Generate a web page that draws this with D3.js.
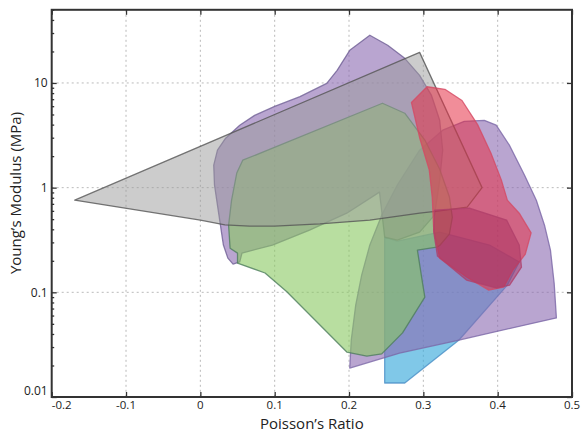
<!DOCTYPE html>
<html>
<head>
<meta charset="utf-8">
<script src="https://cdn.jsdelivr.net/npm/d3@7"></script>
<style>
  html, body { margin: 0; padding: 0; background: #fff; }
  svg { display: block; }
  text { font-family: "Open Sans", "Noto Sans", sans-serif; fill: #222; }
</style>
</head>
<body>
<svg id="chart" width="581" height="431"></svg>
<script>
// ---- Data (Poisson's ratio, Young's modulus in MPa) ----
const xTicks = [-0.2, -0.1, 0, 0.1, 0.2, 0.3, 0.4, 0.5];
const xTickLabels = ["-0.2", "-0.1", "0", "0.1", "0.2", "0.3", "0.4", "0.5"];
const yTicks = [0.01, 0.1, 1, 10];
const yTickLabels = ["0.01", "0.1", "1", "10"];

const cyanRegion = [
  [0.248, 0.0136], [0.275, 0.0136], [0.348, 0.035], [0.413, 0.117], [0.429, 0.195],
  [0.389, 0.283], [0.322, 0.376], [0.265, 0.308], [0.248, 0.337]
];
const purpleRightRegion = [
  [0.201, 0.0189], [0.203, 0.035], [0.209, 0.0755], [0.217, 0.146], [0.228, 0.283],
  [0.244, 0.546], [0.265, 1.06], [0.295, 2.28], [0.326, 3.54], [0.355, 4.3],
  [0.382, 4.4], [0.398, 3.95], [0.416, 2.53], [0.436, 1.32], [0.452, 0.759],
  [0.463, 0.438], [0.471, 0.253], [0.476, 0.122], [0.479, 0.057], [0.348, 0.035],
  [0.268, 0.0263]
];
const purpleLeftRegion = [
  [0.044, 0.186], [0.037, 0.212], [0.031, 0.283], [0.027, 0.438], [0.023, 0.68],
  [0.019, 1.06], [0.018, 1.64], [0.023, 2.28], [0.034, 2.97], [0.053, 3.95],
  [0.073, 4.9], [0.100, 5.97], [0.134, 7.4], [0.170, 9.9], [0.184, 13.2],
  [0.201, 20.5], [0.228, 28.6], [0.252, 22.9], [0.275, 17.2], [0.295, 11.8],
  [0.311, 7.6], [0.322, 4.4], [0.326, 2.28], [0.322, 1.18], [0.315, 0.546],
  [0.295, 0.376], [0.265, 0.315], [0.248, 0.337], [0.241, 0.906], [0.197, 0.57],
  [0.147, 0.393], [0.097, 0.283], [0.056, 0.237], [0.053, 0.195]
];
const greenRegion = [
  [0.050, 0.19], [0.087, 0.153], [0.116, 0.102], [0.197, 0.0269], [0.224, 0.0246],
  [0.244, 0.0258], [0.272, 0.041], [0.302, 0.090], [0.299, 0.122], [0.292, 0.253],
  [0.318, 0.27], [0.322, 0.28], [0.335, 0.36], [0.339, 0.52], [0.335, 0.82],
  [0.322, 1.5], [0.302, 2.85], [0.275, 5.14], [0.245, 6.4], [0.084, 2.18],
  [0.057, 1.83], [0.049, 1.38], [0.042, 0.759], [0.038, 0.438], [0.040, 0.264],
  [0.050, 0.237]
];
const grayRegion = [
  [-0.169, 0.759], [0.295, 19.6], [0.379, 1.0], [0.359, 0.65], [0.322, 0.60],
  [0.295, 0.57], [0.228, 0.49], [0.161, 0.45], [0.100, 0.429], [0.066, 0.429],
  [0.033, 0.44], [0.0, 0.49]
];
const redOuterRegion = [
  [0.284, 6.5], [0.305, 9.2], [0.329, 8.7], [0.352, 6.8], [0.373, 4.0],
  [0.391, 2.13], [0.405, 1.18], [0.413, 0.759], [0.429, 0.57], [0.445, 0.37],
  [0.437, 0.23], [0.421, 0.165], [0.408, 0.112], [0.388, 0.105], [0.358, 0.14],
  [0.322, 0.212], [0.314, 0.393], [0.312, 0.80], [0.308, 1.47], [0.295, 3.0]
];
const redInnerRegion = [
  [0.315, 0.61], [0.362, 0.637], [0.412, 0.49], [0.429, 0.283], [0.432, 0.174],
  [0.416, 0.117], [0.398, 0.110], [0.358, 0.131], [0.319, 0.222], [0.314, 0.376]
];

const regions = [
  { name: "cyan", data: cyanRegion, fill: "#3caadc", opacity: 0.65, stroke: "#4a8fc6" },
  { name: "purpleRight", data: purpleRightRegion, fill: "#8a69b1", opacity: 0.6, stroke: "#7b66a6" },
  { name: "purpleLeft", data: purpleLeftRegion, fill: "#8a69b1", opacity: 0.6, stroke: "#6f5f95" },
  { name: "green", data: greenRegion, fill: "#89c861", opacity: 0.6, stroke: "#4d7d5c" },
  { name: "gray", data: grayRegion, fill: "#999999", opacity: 0.5, stroke: "#555555" },
  { name: "redOuter", data: redOuterRegion, fill: "#e62f45", opacity: 0.55, stroke: "#d44a64" },
  { name: "redInner", data: redInnerRegion, fill: "#a52a5a", opacity: 0.45, stroke: "#b0406a" }
];

(function draw() {
  const svg = d3.select("#chart");
  const pL = 51.7, pR = 572, pT = 9.8, pB = 397;

  const x = d3.scaleLinear().domain([-0.2, 0.5]).range([pL, pR]);
  const y = d3.scaleLog().domain([0.01, 50]).range([pB, pT]);

  svg.append("defs").append("clipPath").attr("id", "plotClip")
    .append("rect").attr("x", pL).attr("y", pT)
    .attr("width", pR - pL).attr("height", pB - pT);

  // grid
  const grid = svg.append("g");
  grid.selectAll("line.vx").data(xTicks.slice(1, -1)).join("line")
    .attr("x1", d => x(d)).attr("x2", d => x(d))
    .attr("y1", pT).attr("y2", pB)
    .attr("stroke", "#a8a8a8").attr("stroke-width", 0.8).attr("stroke-dasharray", "2,3");
  grid.selectAll("line.hy").data(yTicks.slice(1)).join("line")
    .attr("y1", d => y(d)).attr("y2", d => y(d))
    .attr("x1", pL).attr("x2", pR)
    .attr("stroke", "#a8a8a8").attr("stroke-width", 0.8).attr("stroke-dasharray", "2,3");

  // regions
  const line = d3.line().x(d => x(d[0])).y(d => y(d[1])).curve(d3.curveLinearClosed);
  const plot = svg.append("g").attr("clip-path", "url(#plotClip)");
  plot.selectAll("path.region").data(regions).join("path")
    .attr("class", "region")
    .attr("d", d => line(d.data))
    .attr("fill", d => d.fill)
    .attr("fill-opacity", d => d.opacity)
    .attr("stroke", d => d.stroke)
    .attr("stroke-opacity", 0.8)
    .attr("stroke-width", 1.3)
    .attr("stroke-linejoin", "round");

  // axes (ticks drawn inward)
  const axisColor = "#333";
  const minorY = [];
  [0.01, 0.1, 1, 10].forEach(dec => { for (let k = 2; k <= 9; k++) { const v = dec * k; if (v <= 50) minorY.push(v); } });

  function styleAxis(g) {
    g.select(".domain").remove();
    g.selectAll(".tick line").attr("stroke", axisColor).attr("stroke-width", 1.3);
  }
  svg.append("g").attr("transform", `translate(0,${pB})`)
    .call(d3.axisBottom(x).tickValues(xTicks).tickSize(-5).tickFormat("")).call(styleAxis);
  svg.append("g").attr("transform", `translate(0,${pT})`)
    .call(d3.axisTop(x).tickValues(xTicks).tickSize(-5).tickFormat("")).call(styleAxis);
  svg.append("g").attr("transform", `translate(${pL},0)`)
    .call(d3.axisLeft(y).tickValues(yTicks).tickSize(-5).tickFormat("")).call(styleAxis);
  svg.append("g").attr("transform", `translate(${pL},0)`)
    .call(d3.axisLeft(y).tickValues(minorY).tickSize(-2.5).tickFormat("")).call(styleAxis);
  svg.append("g").attr("transform", `translate(${pR},0)`)
    .call(d3.axisRight(y).tickValues(yTicks).tickSize(-5).tickFormat("")).call(styleAxis);

  // frame
  svg.append("rect").attr("x", pL).attr("y", pT)
    .attr("width", pR - pL).attr("height", pB - pT)
    .attr("fill", "none").attr("stroke", axisColor).attr("stroke-width", 2);

  // tick labels
  svg.append("g").selectAll("text").data(xTicks).join("text")
    .attr("x", (d, i) => i === 0 ? x(d) + 10 : x(d))
    .attr("y", 408.5)
    .attr("text-anchor", "middle")
    .attr("font-size", 11.5)
    .text((d, i) => xTickLabels[i]);
  svg.append("g").selectAll("text").data(yTicks).join("text")
    .attr("x", pL - 4)
    .attr("y", d => d === 0.01 ? y(d) - 6 : y(d))
    .attr("dy", "0.35em")
    .attr("text-anchor", "end")
    .attr("font-size", 12)
    .text((d, i) => yTickLabels[i]);

  // axis titles
  svg.append("text").attr("x", (pL + pR) / 2).attr("y", 428.5)
    .attr("text-anchor", "middle").attr("font-size", 15).text("Poisson’s Ratio");
  svg.append("text").attr("transform", `translate(21,193) rotate(-90)`)
    .attr("text-anchor", "middle").attr("font-size", 15).text("Young’s Modulus (MPa)");
})();
</script>
</body>
</html>
